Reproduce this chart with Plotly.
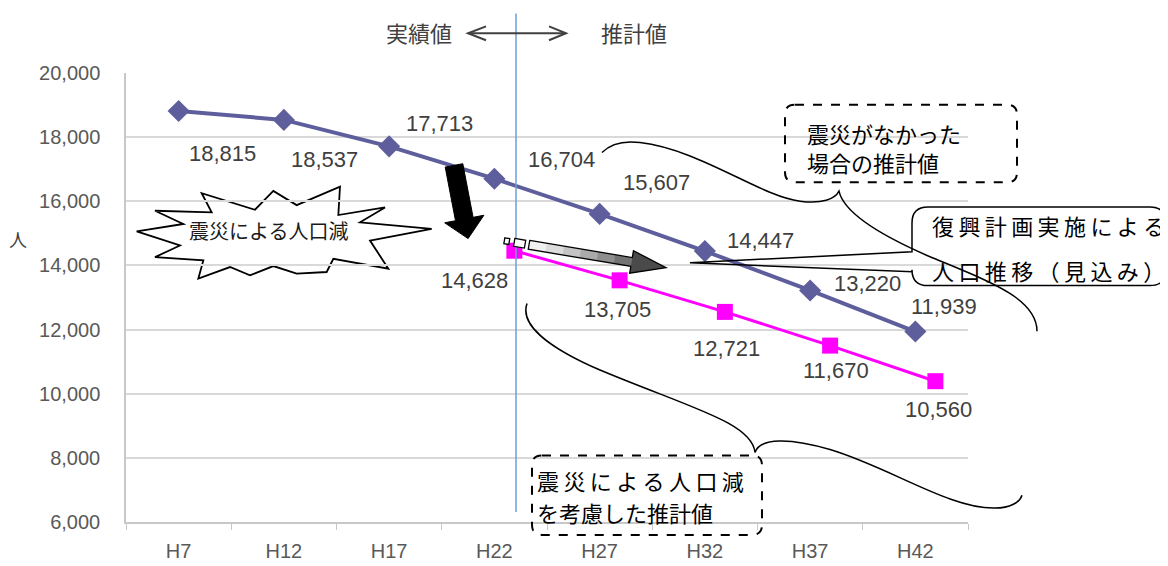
import math
import plotly.graph_objects as go

# ---------------- data ----------------
categories = ["H7", "H12", "H17", "H22", "H27", "H32", "H37", "H42"]
no_quake_values = [18815, 18537, 17713, 16704, 15607, 14447, 13220, 11939]
quake_categories = ["H22", "H27", "H32", "H37", "H42"]
quake_values = [14628, 13705, 12721, 11670, 10560]
y_ticks = [6000, 8000, 10000, 12000, 14000, 16000, 18000, 20000]

# label offsets (pixels) relative to their markers
no_quake_label_shift = [(44, -42), (41, -40), (50, 23), (67, 19), (57, 31), (56, 11), (57, 7), (29, 25)]
quake_label_shift = [(-40, -30), (-2, -29), (2, -37), (6, -25), (3, -28)]

# target plot area in the final picture (pixels)
L, R, T, B = 126, 968, 73, 525
OFF = 8  # page offset of the figure
FW, FH = 1160, 566
BOTTOM_MARGIN = 31


def P(x, y):
    return (x - L) / (R - L), (B - y) / (B - T)


def fmt(x, y):
    a, b = P(x, y)
    return f"{a:.5f},{b:.5f}"


def path(points, close=True):
    s = ""
    for i, (x, y) in enumerate(points):
        s += ("M" if i == 0 else "L") + fmt(x, y) + " "
    return s + ("Z" if close else "")


def cpath(start, segs):
    s = f"M{fmt(*start)} "
    for seg in segs:
        s += "C" + " ".join(fmt(*p) for p in seg) + " "
    return s


def rounded_rect(x0, y0, x1, y1, r):
    s = f"M{fmt(x0 + r, y0)} L{fmt(x1 - r, y0)} Q{fmt(x1, y0)} {fmt(x1, y0 + r)} "
    s += f"L{fmt(x1, y1 - r)} Q{fmt(x1, y1)} {fmt(x1 - r, y1)} L{fmt(x0 + r, y1)} "
    s += f"Q{fmt(x0, y1)} {fmt(x0, y1 - r)} L{fmt(x0, y0 + r)} Q{fmt(x0, y0)} {fmt(x0 + r, y0)} Z"
    return s


fig = go.Figure()

fig.add_trace(go.Scatter(
    x=categories, y=no_quake_values, mode="lines+markers",
    line=dict(color="#5e5e9c", width=4),
    marker=dict(symbol="diamond", size=17, color="#5e5e9c"),
    hoverinfo="skip", showlegend=False, xaxis="x", yaxis="y"))

fig.add_trace(go.Scatter(
    x=quake_categories, y=quake_values, mode="lines+markers",
    line=dict(color="#ff00ff", width=3),
    marker=dict(symbol="square", size=16, color="#ff00ff"),
    hoverinfo="skip", showlegend=False, xaxis="x2", yaxis="y2"))

annotations = []
lab_font = dict(family="Liberation Sans, Arial", size=22, color="#404040")
for c, v, (dx, dy) in zip(categories, no_quake_values, no_quake_label_shift):
    annotations.append(dict(x=c, y=v, xref="x", yref="y", text=f"{v:,}", showarrow=False,
                            xshift=dx, yshift=dy, font=lab_font))
for c, v, (dx, dy) in zip(quake_categories, quake_values, quake_label_shift):
    annotations.append(dict(x=c, y=v, xref="x2", yref="y2", text=f"{v:,}", showarrow=False,
                            xshift=dx, yshift=dy, font=lab_font))

jp = "Noto Sans CJK JP"
TS = "\u2009"


def txt(x, y, s, size=22, color="#000000", anchor="left"):
    px, py = P(x, y)
    annotations.append(dict(x=px, y=py, xref="paper", yref="paper", text=s, showarrow=False,
                            xanchor=anchor, yanchor="middle", align="left",
                            font=dict(family=jp, size=size, color=color)))


txt(419, 32, "実績値", 22, "#404040", "center")
txt(634, 32, "推計値", 22, "#404040", "center")
txt(18, 240, "人", 18, "#404040", "center")
txt(268, 232, "震災による人口減", 20, "#1a1a1a", "center")
txt(805, 147.5, "震災がなかった<br>場合の推計値", 22)
txt(930, 226, TS.join("復興計画実施による"), 22)
txt(930, 271, TS.join("人口推移（見込み）"), 22)
txt(535, 483, TS.join("震災による人口減"), 22)
txt(535, 515, "を考慮した推計値", 22)

shapes = []
# vertical divider
x0, y0 = P(516, 13)
x1, y1 = P(516, 515)
shapes.append(dict(type="line", xref="paper", yref="paper", x0=x0, y0=y0, x1=x1, y1=y1,
                   line=dict(color="#6b9fd6", width=1.5)))
# header double arrow
for seg in [[(468, 33), (566, 33)], [(486, 26), (468, 33), (486, 40)], [(549, 26), (566, 33), (549, 40)]]:
    shapes.append(dict(type="path", xref="paper", yref="paper", path=path(seg, close=False),
                       line=dict(color="#404040", width=2)))

# starburst
zb = [(20, 157), (160, 135), (75, 95), (245, 100), (215, 42), (375, 92), (430, 35), (500, 78),
      (630, 22), (625, 108), (765, 85), (690, 130), (905, 150), (720, 185), (775, 270), (610, 240),
      (590, 280), (500, 285), (430, 262), (360, 290), (300, 265), (205, 300), (220, 245),
      (75, 235), (150, 200)]
burst = [(130 + a / 3, 180 + b / 3) for a, b in zb]
shapes.append(dict(type="path", xref="paper", yref="paper", path=path(burst),
                   fillcolor="white", line=dict(color="black", width=1.8), layer="below"))

# black arrow
shapes.append(dict(type="path", xref="paper", yref="paper",
                   path=path([(445.2, 167.7), (462.8, 164.3), (473.1, 218.3), (483.9, 216.2),
                              (468.1, 239.7), (444.7, 223.8), (455.5, 221.7)]),
                   fillcolor="black", line=dict(color="black", width=1)))

# grey gradient arrow
sx, sy = 529.0, 246.0
tx, ty = 666.0, 269.0
ln = math.hypot(tx - sx, ty - sy)
ux, uy = (tx - sx) / ln, (ty - sy) / ln
nx, ny = -uy, ux
hw, headw, shaft_len = 4.5, 11.5, 104.0


def at(s, w):
    return (sx + ux * s + nx * w, sy + uy * s + ny * w)


greys = ["#f0f0f0", "#dcdcdc", "#c4c4c4", "#aaaaaa", "#8e8e8e", "#737373"]
n = len(greys)
for i, g in enumerate(greys):
    a, b = shaft_len * i / n, shaft_len * (i + 1) / n + 0.5
    shapes.append(dict(type="path", xref="paper", yref="paper",
                       path=path([at(a, -hw), at(b, -hw), at(b, hw), at(a, hw)]),
                       fillcolor=g, line=dict(width=0)))
shapes.append(dict(type="path", xref="paper", yref="paper",
                   path=path([at(shaft_len, -headw), (tx, ty), at(shaft_len, headw)]),
                   fillcolor="#4a4a4a", line=dict(width=0)))
shapes.append(dict(type="path", xref="paper", yref="paper",
                   path=path([at(0, -hw), at(shaft_len, -hw), at(shaft_len, -headw), (tx, ty),
                              at(shaft_len, headw), at(shaft_len, hw), at(0, hw)]),
                   line=dict(color="black", width=1.3)))
for s0, s1, w in [(-25, -20, 3.0), (-15, -4, 4.0)]:
    shapes.append(dict(type="path", xref="paper", yref="paper",
                       path=path([at(s0, -w), at(s1, -w), at(s1, w), at(s0, w)]),
                       fillcolor="white", line=dict(color="black", width=1.3)))

# callout boxes
shapes.append(dict(type="path", xref="paper", yref="paper", path=rounded_rect(785, 105, 1017, 183, 10),
                   line=dict(color="black", width=2, dash="dash")))
shapes.append(dict(type="path", xref="paper", yref="paper", path=rounded_rect(532, 458, 762, 538, 10),
                   line=dict(color="black", width=2, dash="dash")))
bx0, by0, bx1, by1, r = 912, 208, 1166, 287, 16
c2 = (f"M{fmt(bx0 + r, by0)} L{fmt(bx1 - r, by0)} Q{fmt(bx1, by0)} {fmt(bx1, by0 + r)} "
      f"L{fmt(bx1, by1 - r)} Q{fmt(bx1, by1)} {fmt(bx1 - r, by1)} L{fmt(bx0 + r, by1)} "
      f"Q{fmt(bx0, by1)} {fmt(bx0, by1 - r)} L{fmt(bx0, 273)} L{fmt(690, 264)} L{fmt(bx0, 253)} "
      f"L{fmt(bx0, by0 + r)} Q{fmt(bx0, by0)} {fmt(bx0 + r, by0)} Z")
shapes.append(dict(type="path", xref="paper", yref="paper", path=c2,
                   line=dict(color="black", width=1.5)))

# curly braces
upper = cpath((602, 153), [[(612, 143), (625, 141), (640, 143)],
                           [(700, 150), (760, 197), (800, 202)],
                           [(822, 205), (835, 200), (839, 192)],
                           [(843, 210), (870, 232), (930, 258)],
                           [(990, 283), (1037, 300), (1037, 333)]])
lower = cpath((527, 305), [[(520, 325), (545, 348), (600, 372)],
                           [(690, 410), (752, 425), (755, 455)],
                           [(760, 440), (790, 440), (830, 452)],
                           [(890, 470), (950, 512), (995, 511)],
                           [(1010, 511), (1020, 505), (1022, 498)]])
for pth in (upper, lower):
    shapes.append(dict(type="path", xref="paper", yref="paper", path=pth,
                       line=dict(color="black", width=1.5)))

tick_font = dict(family="Liberation Sans, Arial", size=20, color="#595959")
fig.update_layout(
    width=FW, height=FH,
    margin=dict(l=L - OFF, r=FW - (R - OFF), t=T - OFF, b=BOTTOM_MARGIN),
    paper_bgcolor="white", plot_bgcolor="white",
    xaxis=dict(type="category", categoryorder="array", categoryarray=categories,
               range=[-0.5, 7.5], showgrid=False, showline=True, linecolor="#c8c8c8", linewidth=1.5,
               ticks="outside", tickson="boundaries", ticklen=6, tickcolor="#c8c8c8",
               tickfont=tick_font, ticklabelstandoff=10, zeroline=False),
    xaxis2=dict(type="category", categoryorder="array", categoryarray=categories,
                range=[-0.69, 7.31], overlaying="x", visible=False),
    yaxis=dict(range=[6000, 20000], tickvals=y_ticks, tickformat=",d", showgrid=True,
               gridcolor="#d9d9d9", gridwidth=1.5, showline=True, linecolor="#c8c8c8", linewidth=1.5,
               ticks="", tickfont=tick_font, ticklabelstandoff=20, zeroline=False),
    yaxis2=dict(range=[6170, 20170], overlaying="y", visible=False),
    annotations=annotations, shapes=shapes,
)

fig.write_html("out.html")
